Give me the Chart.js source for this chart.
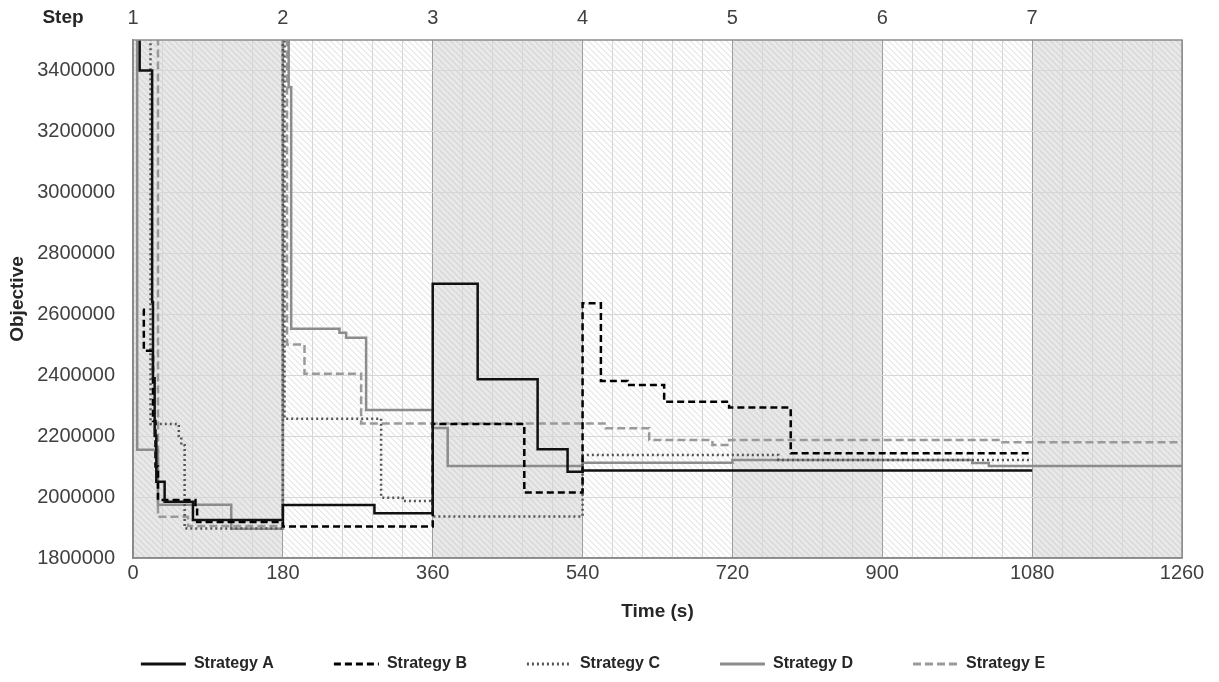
<!DOCTYPE html>
<html>
<head>
<meta charset="utf-8">
<title>Objective over time</title>
<script src="https://cdn.jsdelivr.net/npm/chart.js@4.4.1/dist/chart.umd.min.js"></script>
<style>
  html, body { margin: 0; padding: 0; background: #fff; }
  #wrap { width: 1219px; height: 682px; }
</style>
</head>
<body>
<div id="wrap"><canvas id="chart" width="1219" height="682"></canvas></div>
<script>
"use strict";

/* ---------- data ---------- */
// time (s) at which the objective changes, and the value held from then on
const timeA = [7, 8, 23, 24, 26, 28, 38, 72, 180, 290, 360, 414, 486, 522, 540, 1080];
const objA  = [3700000, 3400000, 2640000, 2390000, 2200000, 2050000, 1985000, 1925000, 1974000, 1947000, 2700000, 2387000, 2157000, 2083000, 2087000, 2087000];

const timeB = [12, 13, 23, 24, 27, 30, 75, 77, 180, 360, 470, 540, 562, 594, 638, 716, 790, 1080];
const objB  = [2615000, 2480000, 2470000, 2250000, 2100000, 1990000, 1968000, 1918000, 1903000, 2240000, 2015000, 2636000, 2381000, 2368000, 2313000, 2294000, 2144000, 2144000];

const timeC = [20, 21, 55, 58, 62, 180, 182, 298, 324, 357, 360, 540, 775, 1080];
const objC  = [3700000, 2240000, 2200000, 2170000, 1897000, 3700000, 2257000, 1998000, 1987000, 1980000, 1936000, 2138000, 2122000, 2122000];

const timeD = [4, 5, 30, 118, 180, 187, 190, 248, 256, 280, 360, 378, 540, 720, 1008, 1028, 1260];
const objD  = [3700000, 2155000, 1975000, 1896000, 3700000, 3345000, 2552000, 2539000, 2523000, 2286000, 2227000, 2102000, 2113000, 2122000, 2112000, 2102000, 2102000];

const timeE = [28, 30, 66, 180, 185, 206, 274, 568, 620, 696, 716, 1044, 1260];
const objE  = [3700000, 1935000, 1905000, 3700000, 2501000, 2405000, 2241000, 2226000, 2187000, 2171000, 2187000, 2180000, 2180000];

const seriesNames = ["Strategy A", "Strategy B", "Strategy C", "Strategy D", "Strategy E"];
const stepStarts = [0, 180, 360, 540, 720, 900, 1080];
const stepLabels = ["1", "2", "3", "4", "5", "6", "7"];
const yTicks = [1800000, 2000000, 2200000, 2400000, 2600000, 2800000, 3000000, 3200000, 3400000];

const T_MAX = 1260, T_GRID = 36, T_LABEL = 180;
const Y_MIN = 1800000, Y_MAX = 3500000;

/* ---------- helpers ---------- */
const SANS = '"Liberation Sans", Arial, sans-serif';

function pts(ts, ys) { return ts.map((t, i) => ({ x: t, y: ys[i] })); }

function series(label, ts, ys, color, width, dash) {
  return {
    label, data: pts(ts, ys),
    borderColor: color, backgroundColor: color,
    borderWidth: width, borderDash: dash,
    borderCapStyle: "butt", borderJoinStyle: "miter",
    stepped: true, pointRadius: 0, fill: false, clip: 0,
  };
}

function gridTicks() {
  const out = [];
  for (let t = 0; t <= T_MAX; t += T_GRID) out.push({ value: t });
  return out;
}

/* ---------- background: alternating hatched step bands ---------- */
const stepBands = {
  id: "stepBands",
  beforeDraw(chart) {
    const { ctx, chartArea: a, scales: { x } } = chart;
    const h = a.bottom - a.top;
    stepStarts.forEach((s, i) => {
      const x0 = x.getPixelForValue(s);
      const x1 = x.getPixelForValue(i + 1 < stepStarts.length ? stepStarts[i + 1] : T_MAX);
      const shaded = i % 2 === 0;
      ctx.save();
      ctx.beginPath(); ctx.rect(x0, a.top, x1 - x0, h); ctx.clip();
      ctx.fillStyle = shaded ? "#e8e8e8" : "#ffffff";
      ctx.fillRect(x0, a.top, x1 - x0, h);
      ctx.strokeStyle = shaded ? "#cbcbcb" : "#d9d9d9";
      ctx.lineWidth = 1;
      ctx.beginPath();
      for (let p = a.left - h; p < a.right; p += 6) {
        ctx.moveTo(p + 0.5, a.top); ctx.lineTo(p + h + 0.5, a.bottom);
      }
      ctx.stroke();
      ctx.restore();
    });
  },
  afterDraw(chart) {
    const { ctx, chartArea: a } = chart;
    ctx.save();
    ctx.strokeStyle = "#8c8c8c"; ctx.lineWidth = 1.5;
    ctx.strokeRect(a.left, a.top, a.right - a.left, a.bottom - a.top);
    ctx.fillStyle = "#262626";
    ctx.font = "bold 19px " + SANS;
    ctx.textAlign = "center"; ctx.textBaseline = "middle";
    ctx.fillText("Step", 63, 18);
    ctx.restore();
  },
};

/* ---------- chart ---------- */
new Chart(document.getElementById("chart"), {
  type: "line",
  data: {
    datasets: [
      series(seriesNames[0], timeA, objA, "#111111", 2.5, []),
      series(seriesNames[1], timeB, objB, "#000000", 2.5, [7, 4]),
      series(seriesNames[2], timeC, objC, "#555555", 2.5, [2, 3]),
      series(seriesNames[3], timeD, objD, "#8c8c8c", 2.5, []),
      series(seriesNames[4], timeE, objE, "#9a9a9a", 2.5, [8, 4]),
    ],
  },
  options: {
    responsive: false, animation: false, devicePixelRatio: 1,
    layout: { padding: { left: 4, right: 37, top: 0, bottom: 0 } },
    scales: {
      x: {
        type: "linear", position: "bottom", min: 0, max: T_MAX,
        afterFit: (s) => { s.height = 38; },
        afterBuildTicks: (s) => { s.ticks = gridTicks(); },
        ticks: {
          autoSkip: false, maxRotation: 0, padding: 3,
          color: "#404040", font: { family: SANS, size: 20 },
          callback: (v) => (v % T_LABEL === 0 ? String(v) : ""),
        },
        grid: {
          drawTicks: false, lineWidth: 1,
          color: (c) => (c.tick && c.tick.value % T_LABEL === 0 ? "#9e9e9e" : "#d6d6d6"),
        },
        border: { display: true, color: "#808080", width: 1.5 },
        title: {
          display: true, text: "Time (s)", color: "#262626",
          font: { family: SANS, size: 19, weight: "bold", lineHeight: 1 },
          padding: { top: 0, bottom: -25 },
        },
      },
      x2: {
        type: "linear", position: "top", min: 0, max: T_MAX,
        afterFit: (s) => { s.height = 40; },
        afterBuildTicks: (s) => { s.ticks = stepStarts.map((v) => ({ value: v })); },
        ticks: {
          autoSkip: false, maxRotation: 0, padding: 10,
          color: "#404040", font: { family: SANS, size: 20 },
          callback: (v) => { const i = stepStarts.indexOf(v); return i >= 0 ? stepLabels[i] : ""; },
        },
        grid: { display: false, drawTicks: false },
        border: { display: false },
      },
      y: {
        min: Y_MIN, max: Y_MAX,
        afterFit: (s) => { s.width = 129; },
        afterBuildTicks: (s) => { s.ticks = yTicks.map((v) => ({ value: v })); },
        ticks: {
          padding: 18, autoSkip: false,
          color: "#404040", font: { family: SANS, size: 20 },
          callback: (v) => String(v),
        },
        grid: { drawTicks: false, color: "#d6d6d6" },
        border: { display: true, color: "#808080", width: 1.5 },
        title: {
          display: true, text: "Objective", color: "#262626",
          font: { family: SANS, size: 19, weight: "bold", lineHeight: 1 },
          padding: { top: 4, bottom: 0 },
        },
      },
    },
    plugins: {
      tooltip: { enabled: false },
      legend: {
        position: "bottom",
        labels: {
          usePointStyle: true, pointStyle: "line", pointStyleWidth: 45,
          padding: 60, color: "#262626",
          font: { family: SANS, size: 16, weight: "bold" },
          generateLabels(chart) {
            const items = Chart.defaults.plugins.legend.labels.generateLabels(chart);
            items.forEach((it, i) => {
              const ds = chart.data.datasets[i];
              it.lineDash = ds.borderDash;
              it.lineWidth = 3;
              it.strokeStyle = ds.borderColor;
              it.pointStyle = "line";
            });
            return items;
          },
        },
      },
    },
  },
  plugins: [stepBands],
});
</script>
</body>
</html>
